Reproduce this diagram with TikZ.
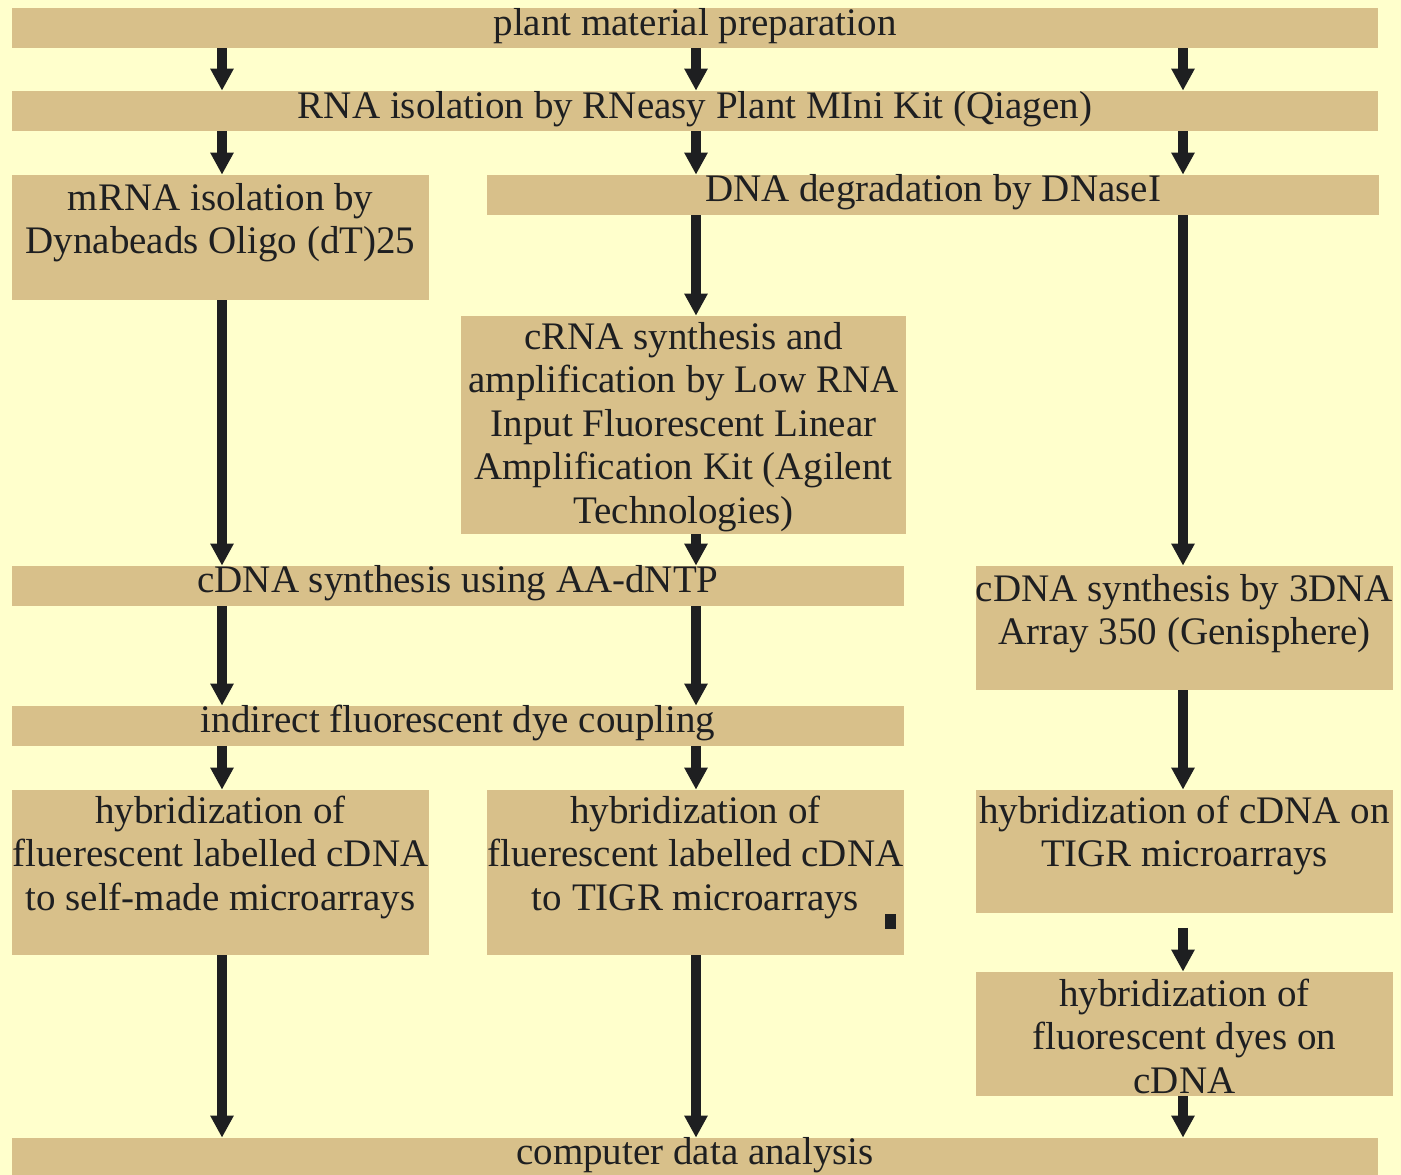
\documentclass[tikz,border=0pt]{standalone}
\usepackage{fontspec}
\setmainfont{Liberation Serif}
\usetikzlibrary{arrows.meta}
\definecolor{paper}{RGB}{255,255,204}
\definecolor{sand}{RGB}{216,192,138}
\definecolor{ink}{RGB}{30,31,33}
\newcommand{\firstline}{\rule{0pt}{0.6cm}}
\begin{document}
\begin{tikzpicture}[x=0.02cm, y=-0.02cm,
        flow/.style={draw=ink, line width=0.2cm, -{Triangle[length=0.44cm,width=0.44cm]}},
        txt/.style={inner sep=0pt, align=center, text=ink, font=\fontsize{22.2pt}{24.8pt}\selectfont}]
        \path[use as bounding box, fill=paper] (0,0) rectangle (1401,1175);
        \clip (0,0) rectangle (1401,1175);

        \begin{scope}[every node/.style={fill=sand, inner sep=0pt, minimum height=0.8cm}]
            \node[minimum width=27.32cm] (prep) at (695,28) {};
            \node[minimum width=27.32cm] (rna) at (695,111) {};
            \node[minimum width=8.34cm, minimum height=2.5cm] (mrna) at (220.5,237.5) {};
            \node[minimum width=17.84cm] (dnase) at (933,195) {};
            \node[minimum width=8.9cm, minimum height=4.36cm] (crna) at (683.5,425) {};
            \node[minimum width=17.84cm] (cdnaaa) at (458,586) {};
            \node[minimum width=8.34cm, minimum height=2.48cm] (cdnagen) at (1184.5,628) {};
            \node[minimum width=17.84cm] (dye) at (458,726) {};
            \node[minimum width=8.34cm, minimum height=3.3cm] (hybself) at (220.5,872.5) {};
            \node[minimum width=8.34cm, minimum height=3.3cm] (hybtigr) at (695.5,872.5) {};
            \node[minimum width=8.34cm, minimum height=2.46cm] (hybcdna) at (1184.5,851.5) {};
            \node[minimum width=8.34cm, minimum height=2.48cm] (hybdyes) at (1184.5,1034) {};
            \node[minimum width=27.32cm] (comp) at (695,1158) {};
        \end{scope}

        % columns
        \coordinate (cL) at (222,0);
        \coordinate (cM) at (696,0);
        \coordinate (cR) at (1183,0);
        \coordinate (gap) at (1183,928);

        % texts
        \draw (prep.north) +(0,-2) node[txt, below] {\firstline plant material preparation};
        \draw (rna.north) +(0,-2) node[txt, below] {\firstline RNA isolation by RNeasy Plant MIni Kit (Qiagen)};
        \draw (mrna.north) +(0,5) node[txt, below] {\firstline mRNA isolation by\\ Dynabeads Oligo (dT)25};
        \draw (dnase.north) +(0,-3) node[txt, below] {\firstline DNA degradation by DNaseI};
        \draw (crna.north) +(0,3) node[txt, below] {\firstline cRNA synthesis and\\ amplification by Low RNA\\ Input Fluorescent Linear\\ Amplification Kit (Agilent\\ Technologies)};
        \draw (cdnaaa.north) +(0,-3) node[txt, below] {\firstline cDNA synthesis using AA-dNTP};
        \draw (cdnagen.north) +(0,5) node[txt, below] {\firstline cDNA synthesis by 3DNA\\ Array 350 (Genisphere)};
        \draw (dye.north) +(0,-3) node[txt, below] {\firstline indirect fluorescent dye coupling};
        \draw (hybself.north) +(0,3) node[txt, below] {\firstline hybridization of\\ fluerescent labelled cDNA\\ to self-made microarrays};
        \draw (hybtigr.north) +(0,3) node[txt, below] {\firstline hybridization of\\ fluerescent labelled cDNA\\ to TIGR microarrays};
        \draw (hybcdna.north) +(0,3) node[txt, below] {\firstline hybridization of cDNA on\\ TIGR microarrays};
        \draw (hybdyes.north) +(0,4) node[txt, below] {\firstline hybridization of\\ fluorescent dyes on\\ cDNA};
        \draw (comp.north) +(0,-3) node[txt, below] {\firstline computer data analysis};
        \fill[ink] (885,914) rectangle (896,929);

        % left column
        \draw[flow] (prep.south -| cL) -- (rna.north -| cL);
        \draw[flow] (rna.south -| cL) -- (mrna.north -| cL);
        \draw[flow] (mrna.south -| cL) -- (cdnaaa.north -| cL);
        \draw[flow] (cdnaaa.south -| cL) -- (dye.north -| cL);
        \draw[flow] (dye.south -| cL) -- (hybself.north -| cL);
        \draw[flow] (hybself.south -| cL) -- (comp.north -| cL);

        % middle column
        \draw[flow] (prep.south -| cM) -- (rna.north -| cM);
        \draw[flow] (rna.south -| cM) -- (dnase.north -| cM);
        \draw[flow] (dnase.south -| cM) -- (crna.north -| cM);
        \draw[flow] (crna.south -| cM) -- (cdnaaa.north -| cM);
        \draw[flow] (cdnaaa.south -| cM) -- (dye.north -| cM);
        \draw[flow] (dye.south -| cM) -- (hybtigr.north -| cM);
        \draw[flow] (hybtigr.south -| cM) -- (comp.north -| cM);

        % right column
        \draw[flow] (prep.south -| cR) -- (rna.north -| cR);
        \draw[flow] (rna.south -| cR) -- (dnase.north -| cR);
        \draw[flow] (dnase.south -| cR) -- (cdnagen.north -| cR);
        \draw[flow] (cdnagen.south -| cR) -- (hybcdna.north -| cR);
        \draw[flow] (gap) -- (hybdyes.north -| cR);
        \draw[flow] (hybdyes.south -| cR) -- (comp.north -| cR);
    \end{tikzpicture}
\end{document}
